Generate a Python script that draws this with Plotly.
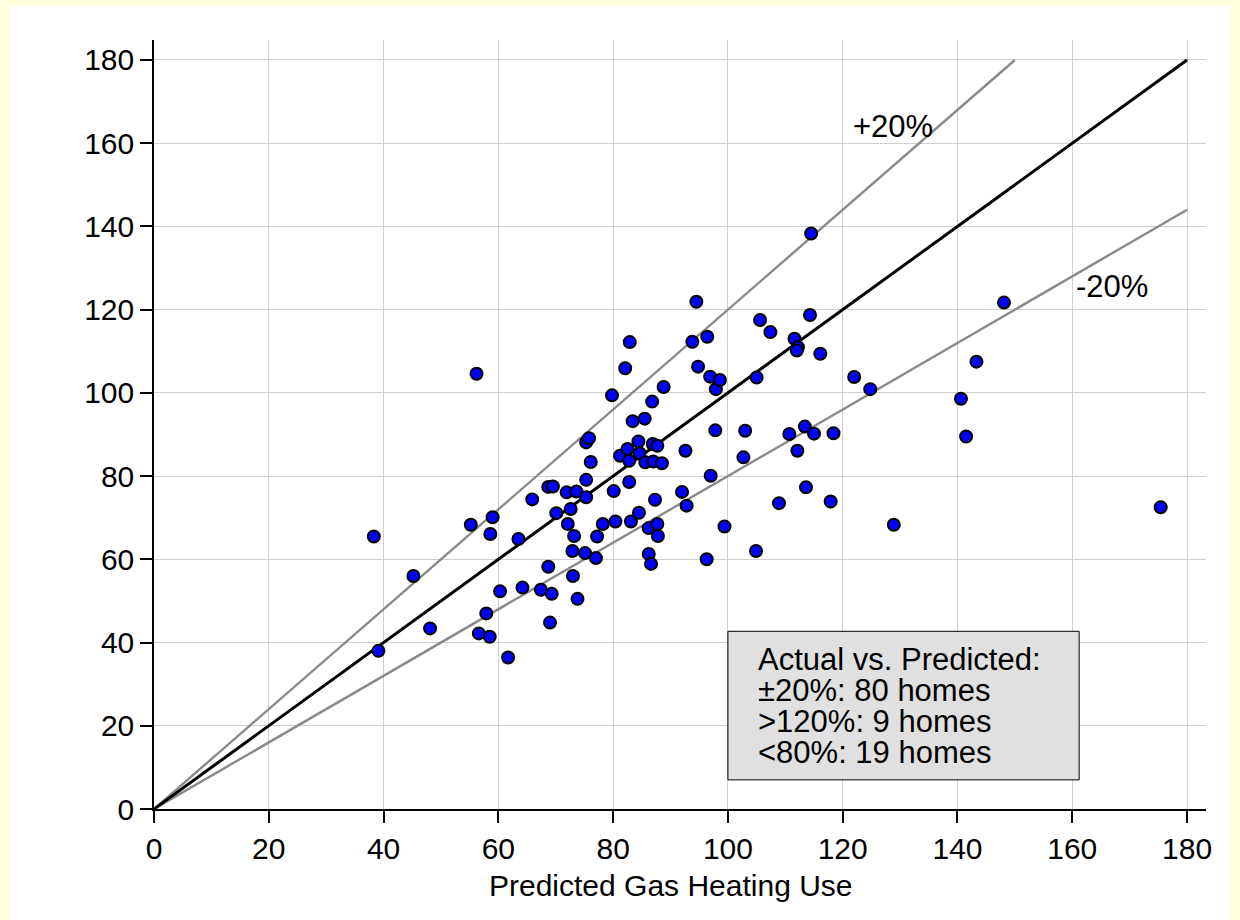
import plotly.graph_objects as go

predicted = [38.3, 39.1, 45.2, 48.1, 55.2, 56.2, 56.6, 57.9, 58.5, 58.6, 59.0, 60.3, 61.7, 63.5, 64.2, 65.9, 67.4, 68.7, 68.7, 69.0,
             69.3, 69.5, 70.1, 71.9, 72.6, 72.1, 72.9, 73.0, 73.2, 73.6, 73.8, 75.1, 75.3, 75.3, 75.3, 75.8, 76.1, 77.0, 77.2, 78.2,
             79.8, 80.1, 80.4, 81.2, 82.1, 82.5, 82.8, 82.8, 82.9, 83.1, 83.4, 84.4, 84.5, 84.6, 85.5, 85.6, 86.2, 86.2, 86.6, 86.8,
             86.9, 87.0, 87.3, 87.7, 87.7, 87.8, 88.5, 88.8, 92.0, 92.6, 92.8, 93.8, 94.5, 94.8, 96.3, 96.4, 96.9, 97.0, 97.8, 97.9,
             98.6, 99.4, 102.7, 103.0, 104.9, 105.0, 105.6, 107.4, 108.9, 110.7, 111.6, 112.2, 112.0, 112.1, 113.4, 113.6, 114.3, 114.5,
             115.0, 116.1, 117.9, 118.4, 122.0, 124.8, 128.9, 140.6, 141.5, 143.3, 148.1, 175.4]
actual = [65.5, 38.0, 56.0, 43.4, 68.3, 104.6, 42.2, 47.0, 41.4, 66.1, 70.1, 52.3, 36.4, 64.9, 53.2, 74.4, 52.7, 58.2, 77.4, 44.8,
          51.7, 77.5, 71.1, 76.1, 72.1, 68.5, 62.0, 56.0, 65.6, 76.3, 50.5, 61.5, 74.9, 79.1, 88.1, 89.1, 83.4, 60.3, 65.5, 68.5,
          99.4, 76.4, 69.1, 84.9, 105.9, 86.5, 83.7, 78.6, 112.2, 69.1, 93.2, 88.3, 71.2, 85.5, 93.8, 83.3, 67.5, 61.3, 58.9, 97.9,
          87.7, 83.5, 74.3, 87.3, 68.5, 65.6, 83.1, 101.4, 76.2, 86.1, 72.9, 112.3, 121.9, 106.3, 60.0, 113.5, 103.9, 80.1, 91.0, 100.9,
          103.1, 67.9, 84.5, 90.9, 62.0, 103.7, 117.5, 114.6, 73.5, 90.1, 113.0, 111.0, 110.2, 86.1, 91.9, 77.3, 118.7, 138.3,
          90.2, 109.4, 73.9, 90.3, 103.8, 100.9, 68.3, 98.6, 89.5, 107.5, 121.7, 72.5]

ref_x = [0, 180]
ref_y = [0, 180]
plus_x = [0, 150]
plus_y = [0, 180]
minus_x = [0, 180]
minus_y = [0, 144]

tick_vals = [0, 20, 40, 60, 80, 100, 120, 140, 160, 180]
tick_text = ["0", "20", "40", "60", "80", "100", "120", "140", "160", "180"]

box_lines = ["Actual vs. Predicted:", "\u00b120%: 80 homes", ">120%: 9 homes", "<80%: 19 homes"]
x_title = "Predicted Gas Heating Use"

FONT = "Liberation Sans, Arial, sans-serif"
# figure fills the window (page margin removed below), so figure pixels = window pixels
W, H = 1240, 920
T = 40
plot_bottom = 809.3
L, R = 153.5, 34
B = H - plot_bottom
pw = W - L - R
ph = plot_bottom - T

def px_x(p):  # window pixel -> paper x
    return (p - L) / pw

def px_y(p):  # window pixel -> paper y
    return (plot_bottom - p) / ph

fig = go.Figure()
fig.add_trace(go.Scatter(x=plus_x, y=plus_y, mode="lines", line=dict(color="#8a8a8a", width=2.4), hoverinfo="skip"))
fig.add_trace(go.Scatter(x=minus_x, y=minus_y, mode="lines", line=dict(color="#8a8a8a", width=2.4), hoverinfo="skip"))
fig.add_trace(go.Scatter(x=ref_x, y=ref_y, mode="lines", line=dict(color="black", width=3), hoverinfo="skip"))
fig.add_trace(go.Scatter(x=predicted, y=actual, mode="markers",
                         marker=dict(size=12, color="#0000ff", line=dict(color="black", width=2))))

# info box
fig.add_shape(type="rect", xref="x", yref="y", x0=100, x1=161.2, y0=7.0, y1=42.7,
              fillcolor="#e0e0e0", line=dict(color="black", width=1), layer="above")
line_ys = [36.0, 28.5, 21.1, 13.6]
for txt, yy in zip(box_lines, line_ys):
    fig.add_annotation(x=104.9, y=yy, xref="x", yref="y", text=txt, showarrow=False,
                       xanchor="left", yanchor="middle", font=dict(family=FONT, size=31, color="black"))

fig.add_annotation(x=128.8, y=163.9, xref="x", yref="y", text="+20%", showarrow=False,
                   font=dict(family=FONT, size=31, color="black"))
fig.add_annotation(x=166.9, y=125.5, xref="x", yref="y", text="-20%", showarrow=False,
                   font=dict(family=FONT, size=31, color="black"))

fig.add_annotation(x=90, y=px_y(886), xref="x", yref="paper", text=x_title, showarrow=False,
                   yanchor="middle", font=dict(family=FONT, size=30, color="black"))

# yellow frame strips around the white card (left, top, right)
yellow = "#ffffdc"
for (x0, x1, y0, y1) in [(0, 10, 0, 940), (0, 1240, 0, 6), (1230, 1240, 0, 940)]:
    fig.add_shape(type="rect", xref="paper", yref="paper", x0=px_x(x0), x1=px_x(x1), y0=px_y(y1), y1=px_y(y0),
                  fillcolor=yellow, line=dict(width=0), layer="above")

axis_common = dict(showgrid=True, gridcolor="#d0d0d0", gridwidth=1, zeroline=False,
                   showline=True, linecolor="black", linewidth=1.5,
                   ticks="outside", ticklen=12, tickwidth=1.5, tickcolor="black",
                   tickvals=tick_vals, ticktext=tick_text,
                   tickfont=dict(family=FONT, size=30, color="black"))
fig.update_layout(
    width=W, height=H, showlegend=False,
    paper_bgcolor="white", plot_bgcolor="white",
    margin=dict(l=L, r=R, t=T, b=B, autoexpand=False),
    xaxis=dict(range=[0, 183.3], **axis_common),
    yaxis=dict(range=[0, 184.8], **axis_common),
)
fig.write_html("out.html", config={"displayModeBar": False},
               post_script="document.body.style.margin='0';document.body.style.overflow='hidden';"
                           "document.body.style.background='white';")
